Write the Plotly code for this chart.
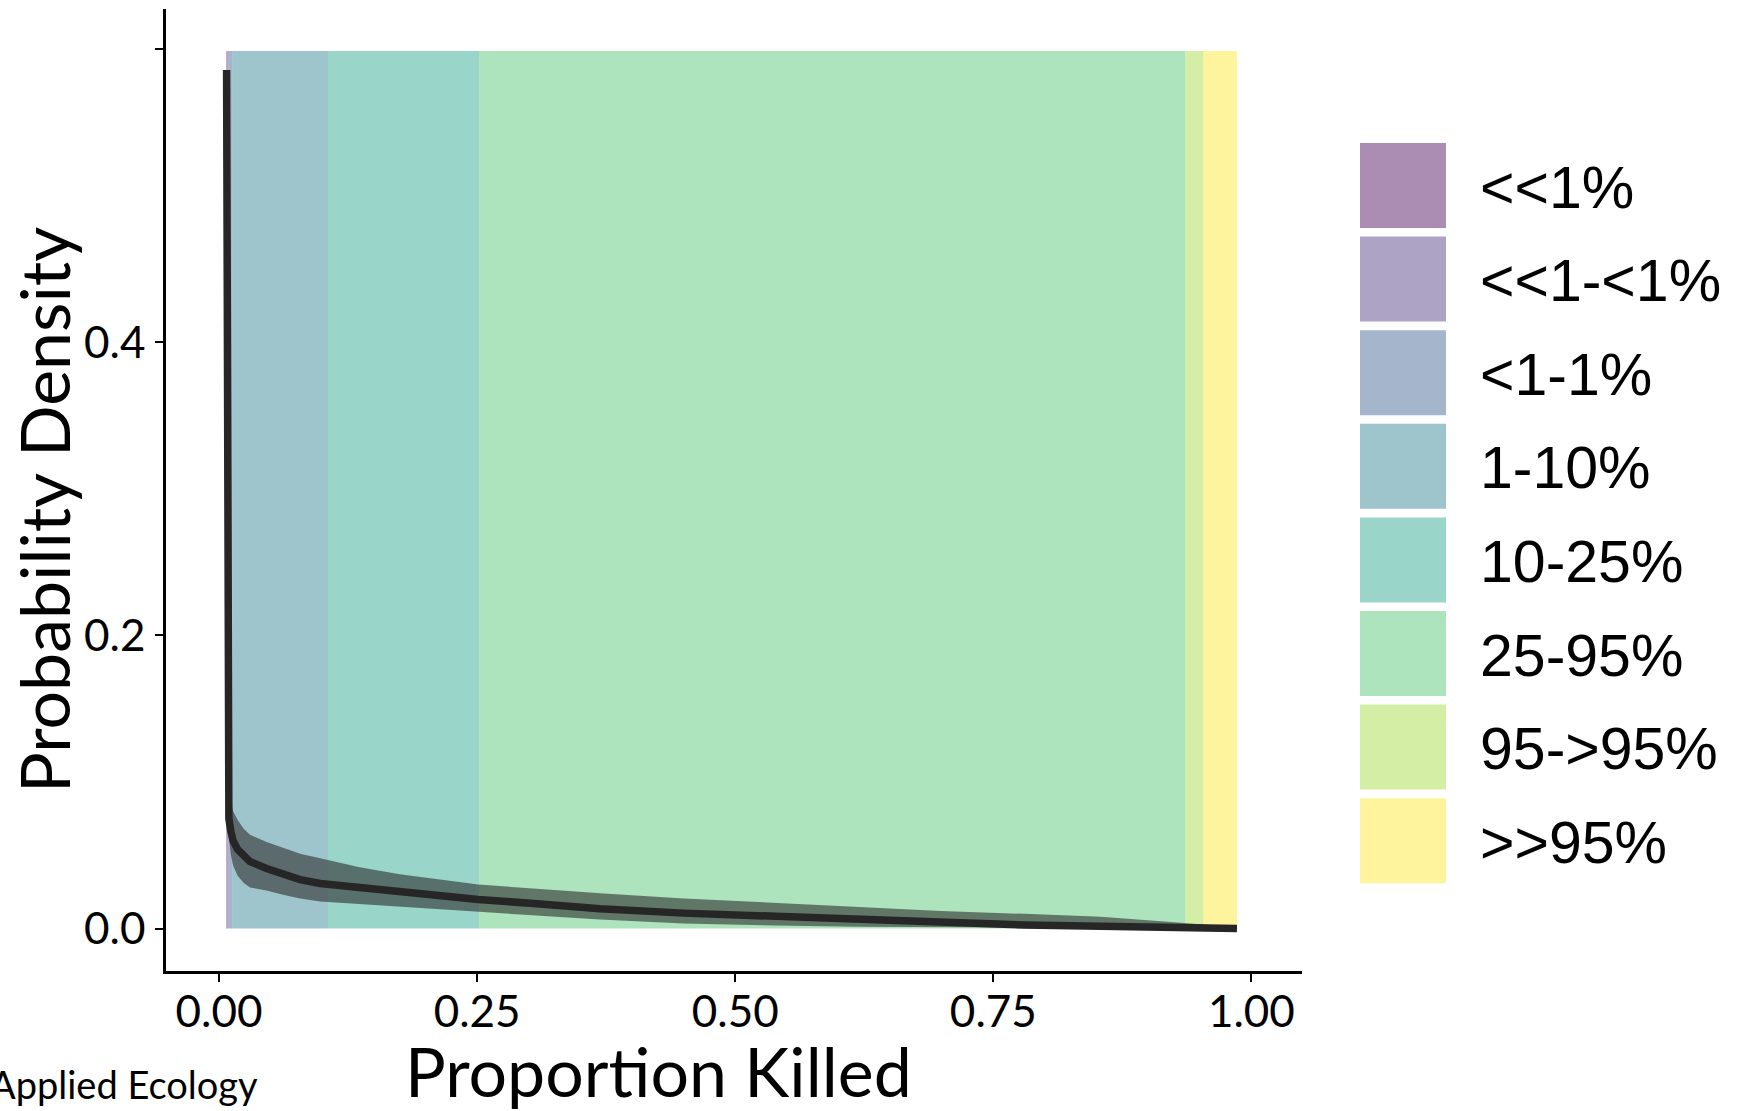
import plotly.graph_objects as go

# ---------------- data ----------------
categories = ["<<1%", "<<1-<1%", "<1-1%", "1-10%", "10-25%", "25-95%", "95->95%", ">>95%"]
band_start = [0.0070, 0.0078, 0.0092, 0.0128, 0.1056, 0.252, 0.936, 0.9535]
band_end   = [0.0078, 0.0092, 0.0128, 0.1056, 0.252, 0.936, 0.9535, 0.986]
band_top = 0.599
band_colors = ["#440154", "#46337E", "#365C8D", "#277F8E", "#1FA187", "#4AC16D", "#9FDA3A", "#FDE725"]

prop_killed = [0.0073, 0.0076, 0.0080, 0.0085, 0.0095, 0.0115, 0.0136, 0.018, 0.024, 0.030,
               0.046, 0.062, 0.0785, 0.098, 0.135, 0.175, 0.251, 0.311, 0.369, 0.45,
               0.539, 0.62, 0.699, 0.78, 0.854, 0.938, 0.986]
density_mid = [0.586, 0.30, 0.14, 0.095, 0.075, 0.066, 0.060, 0.054, 0.049, 0.0457,
               0.041, 0.0369, 0.0334, 0.0307, 0.028, 0.0253, 0.0198, 0.0168, 0.0135, 0.0105,
               0.0082, 0.0058, 0.0036, 0.0024, 0.0015, 0.0006, 0.0]
density_hi = [0.586, 0.30, 0.15, 0.110, 0.095, 0.086, 0.080, 0.074, 0.068, 0.064,
              0.059, 0.055, 0.051, 0.048, 0.042, 0.037, 0.030, 0.027, 0.024, 0.0205,
              0.0173, 0.0145, 0.012, 0.010, 0.008, 0.0036, 0.001]
density_lo = [0.586, 0.30, 0.13, 0.085, 0.062, 0.050, 0.043, 0.036, 0.031, 0.028,
              0.026, 0.023, 0.0205, 0.0184, 0.0165, 0.015, 0.0116, 0.0088, 0.0061, 0.0035,
              0.002, 0.0012, 0.0008, 0.0005, 0.0003, 0.0001, 0.0]

x_ticks = [0, 0.25, 0.5, 0.75, 1.0]
x_ticklabels = ["0.00", "0.25", "0.50", "0.75", "1.00"]
y_ticks = [0.0, 0.2, 0.4, 0.6]
y_ticklabels = ["0.0", "0.2", "0.4", ""]

ALPHA = 0.45


def rgba(hex_color, a):
    h = hex_color.lstrip("#")
    r, g, b = int(h[0:2], 16), int(h[2:4], 16), int(h[4:6], 16)
    return f"rgba({r},{g},{b},{a})"


# ---------------- layout geometry (pixels) ----------------
W, H = 1739, 1111
L, R, T, B = 166, 437, 9, 140
PW, PH = W - L - R, H - T - B


def px2paper_x(px):
    return (px - L) / PW


def px2paper_y(py):
    return (H - B - py) / PH


fig = go.Figure()

shapes = []
for s, e, c in zip(band_start, band_end, band_colors):
    shapes.append(dict(type="rect", xref="x", yref="y", x0=s, x1=e, y0=0, y1=band_top,
                       fillcolor=rgba(c, ALPHA), line=dict(width=0), layer="below"))

# ribbon
fig.add_trace(go.Scatter(
    x=prop_killed + prop_killed[::-1],
    y=density_hi + density_lo[::-1],
    fill="toself", fillcolor="rgba(45,45,45,0.6)", line=dict(width=0),
    mode="lines", hoverinfo="skip", showlegend=False))

# center line
fig.add_trace(go.Scatter(
    x=prop_killed, y=density_mid, mode="lines",
    line=dict(color="#262626", width=7.5), showlegend=False))

# legend (manual)
key_x0, key_x1 = 1360, 1446
key_top0, key_pitch, key_h = 143, 93.6, 85
annotations = []
for i, (cat, c) in enumerate(zip(categories, band_colors)):
    top = key_top0 + i * key_pitch
    shapes.append(dict(type="rect", xref="paper", yref="paper",
                       x0=px2paper_x(key_x0), x1=px2paper_x(key_x1),
                       y0=px2paper_y(top + key_h), y1=px2paper_y(top),
                       fillcolor=rgba(c, ALPHA), line=dict(width=0)))
    annotations.append(dict(xref="paper", yref="paper", x=px2paper_x(1478),
                            y=px2paper_y(top + key_h / 2 + 2), text=cat, showarrow=False,
                            xanchor="left", yanchor="middle",
                            font=dict(family="Liberation Sans, Arial", size=59, color="black")))

# axis titles
annotations.append(dict(xref="paper", yref="paper", x=px2paper_x(658), y=px2paper_y(1070),
                        text="Proportion Killed", showarrow=False, xanchor="center", yanchor="middle",
                        font=dict(family="Lato", size=68, color="black")))
annotations.append(dict(xref="paper", yref="paper", x=px2paper_x(43), y=px2paper_y(510),
                        text="Probability Density", showarrow=False, textangle=-90,
                        xanchor="center", yanchor="middle",
                        font=dict(family="Lato", size=68, color="black")))
annotations.append(dict(xref="paper", yref="paper", x=px2paper_x(260), y=px2paper_y(1084),
                        text="Applied Ecology", showarrow=False, xanchor="right", yanchor="middle",
                        font=dict(family="Lato", size=38, color="black")))

fig.update_layout(
    width=W, height=H, autosize=False,
    margin=dict(l=L, r=R, t=T, b=B, pad=0),
    paper_bgcolor="white", plot_bgcolor="white",
    shapes=shapes, annotations=annotations, showlegend=False,
    xaxis=dict(range=[-0.0514, 1.049], tickvals=x_ticks, ticktext=x_ticklabels,
               showgrid=False, zeroline=False, showline=True, linecolor="black", linewidth=2.5,
               ticks="outside", ticklen=8, tickwidth=2, tickcolor="black",
               tickfont=dict(family="Lato", size=44, color="black"), ticklabelstandoff=-8),
    yaxis=dict(range=[-0.0290, 0.6276], tickvals=y_ticks, ticktext=y_ticklabels,
               showgrid=False, zeroline=False, showline=True, linecolor="black", linewidth=2.5,
               ticks="outside", ticklen=8, tickwidth=2, tickcolor="black",
               tickfont=dict(family="Lato", size=44, color="black"), ticklabelstandoff=1),
)

fig.write_html("out.html", config={"displayModeBar": False},
               post_script="document.body.style.margin='0px';")
